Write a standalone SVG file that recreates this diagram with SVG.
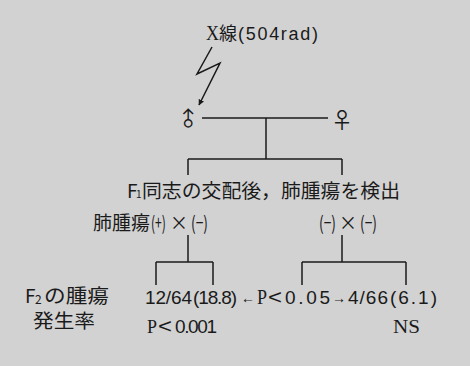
<svg xmlns="http://www.w3.org/2000/svg" width="470" height="366" viewBox="0 0 470 366">
<defs>
<style>
.t{font-family:"Liberation Serif","Noto Sans CJK JP",serif;fill:#1a1a1a;}
.s{font-family:"Liberation Sans","Noto Sans CJK JP",sans-serif;fill:#1a1a1a;}
.j{font-family:"Noto Sans CJK JP","Liberation Sans",sans-serif;fill:#1a1a1a;}
.ln{stroke:#1a1a1a;stroke-width:1.5;fill:none;}
.sym{font-family:"Noto Sans CJK JP","DejaVu Sans",sans-serif;fill:#1a1a1a;}
</style>
<marker id="ah" viewBox="0 0 10 10" refX="9" refY="5" markerWidth="6" markerHeight="6" orient="auto" markerUnits="userSpaceOnUse">
<path d="M0,0 L10,5 L0,10 z" fill="#1a1a1a"/>
</marker>
</defs>
<rect width="470" height="366" fill="#d2d2d2"/>

<g id="xray">
<text class="t" x="206" y="40" font-size="20" textLength="13" lengthAdjust="spacingAndGlyphs">X</text>
<text class="j" x="219" y="40" font-size="18" textLength="18" lengthAdjust="spacingAndGlyphs">線</text>
<text class="s" x="238" y="40" font-size="18" textLength="80" lengthAdjust="spacing">(504rad)</text>
</g>

<g id="connectors">
<polyline class="ln" points="212,47 197,74 220,63 199,105" marker-end="url(#ah)"/>
<line class="ln" x1="202" y1="118" x2="328" y2="118"/>
<line class="ln" x1="266" y1="118" x2="266" y2="159"/>
<line class="ln" x1="188" y1="159" x2="342" y2="159"/>
<line class="ln" x1="188" y1="159" x2="188" y2="175"/>
<line class="ln" x1="342" y1="159" x2="342" y2="175"/>
<line class="ln" x1="188" y1="235" x2="188" y2="262"/>
<line class="ln" x1="156" y1="262" x2="213" y2="262"/>
<line class="ln" x1="156" y1="262" x2="156" y2="285"/>
<line class="ln" x1="213" y1="262" x2="213" y2="285"/>
<line class="ln" x1="342" y1="235" x2="342" y2="262"/>
<line class="ln" x1="302" y1="262" x2="406" y2="262"/>
<line class="ln" x1="302" y1="262" x2="302" y2="285"/>
<line class="ln" x1="406" y1="262" x2="406" y2="285"/>
</g>

<g id="male">
<text class="sym" x="190" y="127" font-size="20" text-anchor="middle" transform="rotate(-45 188 121)">♂</text>
</g>
<g id="female">
<text class="sym" x="342" y="128" font-size="22" text-anchor="middle">♀</text>
</g>

<g id="f1">
<text class="j" x="127" y="198" font-size="19">F</text>
<text class="j" x="136" y="198" font-size="10">1</text>
<text class="j" x="142" y="198" font-size="19" textLength="258" lengthAdjust="spacingAndGlyphs">同志の交配後，肺腫瘍を検出</text>
</g>

<g id="cross-pos">
<text class="j" x="93" y="230" font-size="19" textLength="57" lengthAdjust="spacingAndGlyphs">肺腫瘍</text>
<text class="j" transform="translate(151 230) scale(0.65 1)" x="0" y="0" font-size="19" textLength="23" lengthAdjust="spacingAndGlyphs">(+)</text>
<text class="j" x="170" y="230" font-size="19" textLength="18" lengthAdjust="spacingAndGlyphs">×</text>
<text class="j" transform="translate(191 230) scale(0.65 1)" x="0" y="0" font-size="19" textLength="26" lengthAdjust="spacingAndGlyphs">(−)</text>
</g>

<g id="cross-neg">
<text class="j" transform="translate(319 230) scale(0.65 1)" x="0" y="0" font-size="19" textLength="26" lengthAdjust="spacingAndGlyphs">(−)</text>
<text class="j" x="339" y="230" font-size="19" textLength="18" lengthAdjust="spacingAndGlyphs">×</text>
<text class="j" transform="translate(360 230) scale(0.65 1)" x="0" y="0" font-size="19" textLength="26" lengthAdjust="spacingAndGlyphs">(−)</text>
</g>

<g id="f2label">
<text class="j" x="25" y="303" font-size="19">F</text>
<text class="j" x="35" y="304" font-size="12">2</text>
<text class="j" x="44" y="303" font-size="19" textLength="65" lengthAdjust="spacingAndGlyphs">の腫瘍</text>
<text class="j" x="33" y="328" font-size="19" textLength="62" lengthAdjust="spacingAndGlyphs">発生率</text>
</g>

<g id="results">
<text class="s" x="145" y="304" font-size="19" textLength="47" lengthAdjust="spacing">12/64</text>
<text class="s" x="193" y="304" font-size="19" textLength="44" lengthAdjust="spacing">(18.8)</text>
<text class="s" x="241" y="303" font-size="15" textLength="14" lengthAdjust="spacingAndGlyphs">←</text>
<text class="t" x="257" y="304" font-size="20" textLength="10" lengthAdjust="spacingAndGlyphs">P</text>
<text class="s" x="268" y="304" font-size="20" textLength="14" lengthAdjust="spacingAndGlyphs">&lt;</text>
<text class="s" x="285" y="304" font-size="19" textLength="45" lengthAdjust="spacing">0.05</text>
<text class="s" x="332" y="303" font-size="15" textLength="14" lengthAdjust="spacingAndGlyphs">→</text>
<text class="s" x="348" y="304" font-size="19" textLength="40" lengthAdjust="spacing">4/66</text>
<text class="s" x="390" y="304" font-size="19" textLength="47" lengthAdjust="spacing">(6.1)</text>
</g>

<g id="pvals">
<text class="t" x="147" y="333" font-size="19" textLength="10" lengthAdjust="spacingAndGlyphs">P</text>
<text class="s" x="158" y="333" font-size="20" textLength="14" lengthAdjust="spacingAndGlyphs">&lt;</text>
<text class="s" x="175" y="333" font-size="19" textLength="42" lengthAdjust="spacing">0.001</text>
<text class="t" x="393" y="333" font-size="19" textLength="27" lengthAdjust="spacingAndGlyphs">NS</text>
</g>
</svg>
